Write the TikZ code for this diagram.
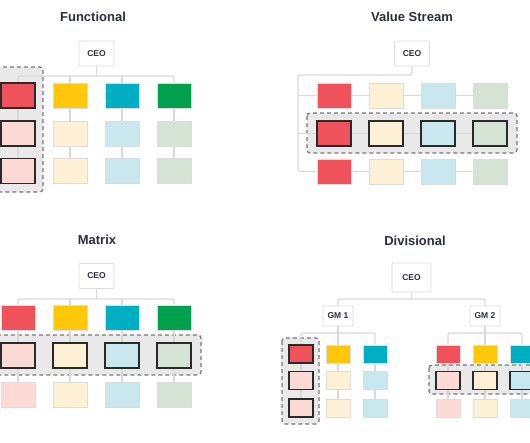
\documentclass[tikz,border=0pt]{standalone}
\usepackage{fontspec}
\setmainfont{Liberation Sans}
\usepackage{xcolor}
\usetikzlibrary{math, backgrounds}

\definecolor{cred}{HTML}{EF525B}
\definecolor{cyel}{HTML}{FFC709}
\definecolor{cteal}{HTML}{00AEC3}
\definecolor{cgrn}{HTML}{00A04D}
\definecolor{lred}{HTML}{FDDAD6}
\definecolor{lyel}{HTML}{FEF0D5}
\definecolor{lteal}{HTML}{C9E7EE}
\definecolor{lgrn}{HTML}{D4E3D3}
\definecolor{ink}{HTML}{2B2E3B}
\definecolor{cdark}{HTML}{2A2A2A}
\definecolor{cedge}{HTML}{DCDCDC}
\definecolor{wiregray}{HTML}{D9D9D9}
\definecolor{groupfill}{HTML}{E9E9E9}
\definecolor{groupline}{HTML}{777777}

\tikzset{
  heading/.style={font=\bfseries\fontsize{13}{15}\selectfont, text=ink},
  boss/.style={draw=cedge, line width=0.9pt, fill=white, rounded corners=1pt,
    font=\bfseries\fontsize{8.5}{10}\selectfont, text=ink,
    minimum width=35pt, minimum height=25pt, inner sep=0pt},
  unit/.style={draw=cedge, line width=0.8pt, minimum width=34pt, minimum height=25pt, inner sep=0pt},
  subunit/.style={unit, minimum width=24pt, minimum height=18pt},
  picked/.style={draw=cdark, line width=1.1pt},
  teambox/.style={draw=groupline, dash pattern=on 4pt off 3pt, line width=1.2pt,
    fill=groupfill, rounded corners=3pt},
  wire/.style={draw=wiregray, line width=1.3pt, rounded corners=2pt},
}

\begin{document}
\begin{tikzpicture}[x=1pt, y=-1pt]
\tikzmath{
\dx=52;
\sx=37;
}
\useasboundingbox (0,0) rectangle (530,442);

%for functional
\node[heading] (tfun) at (93,17) {Functional};
\node[boss] (fceo) at (96.5,53.5) {CEO};
\foreach \c/\hard/\soft/\ec/\lw in {1/cred/lred/cdark/1.1,2/cyel/lyel/cedge/0.8,3/cteal/lteal/cedge/0.8,4/cgrn/lgrn/cedge/0.8}{
  \node[unit, fill=\hard, draw=\ec, line width=\lw pt] (f\c1) at ({18+\dx*(\c-1)},95.5) {};
  \node[unit, fill=\soft, draw=\ec, line width=\lw pt] (f\c2) at ({18+\dx*(\c-1)},133.5) {};
  \node[unit, fill=\soft, draw=\ec, line width=\lw pt] (f\c3) at ({18+\dx*(\c-1)},171) {};
}
\coordinate (fbus) at (0,76);
\begin{pgfonlayer}{background}
\draw[teambox] (-7,67) rectangle (43,192);
\draw[wire] (fceo.south) -- (fceo.south |- fbus);
\draw[wire] (f11.north) |- (f41.north |- fbus) -- (f41.north);
\draw[wire] (f21.north) -- (f21.north |- fbus);
\draw[wire] (f31.north) -- (f31.north |- fbus);
\foreach \c in {1,...,4}
  \draw[wire] (f\c1) -- (f\c3);
\end{pgfonlayer}

%for value stream
\node[heading] (tval) at (412,17) {Value Stream};
\node[boss] (vceo) at (412,53.5) {CEO};
\foreach \c/\soft in {1/cred,2/lyel,3/lteal,4/lgrn}{
  \node[unit, fill=\soft] (v\c1) at ({334+\dx*(\c-1)},95.5) {};
  \node[unit, fill=\soft, picked] (v\c2) at ({334+\dx*(\c-1)},133.5) {};
  \node[unit, fill=\soft] (v\c3) at ({334+\dx*(\c-1)},171.5) {};
}
\coordinate (vtop) at (298,75);
\begin{pgfonlayer}{background}
\draw[teambox] (307,113) rectangle (517,153);
\draw[wire] (vceo.south) |- (vtop) |- (v43);
\draw[wire] (vtop |- v11) -- (v41);
\draw[wire] (vtop |- v12) -- (v42);
\end{pgfonlayer}

%for matrix
\node[heading] (tmat) at (97,240) {Matrix};
\node[boss] (mceo) at (96.5,276) {CEO};
\foreach \c/\hard/\soft in {1/cred/lred,2/cyel/lyel,3/cteal/lteal,4/cgrn/lgrn}{
  \node[unit, fill=\hard] (m\c1) at ({18+\dx*(\c-1)},317.5) {};
  \node[unit, fill=\soft, picked] (m\c2) at ({18+\dx*(\c-1)},355.5) {};
  \node[unit, fill=\soft] (m\c3) at ({18+\dx*(\c-1)},394.5) {};
}
\coordinate (mbus) at (0,299);
\begin{pgfonlayer}{background}
\draw[teambox] (-9,335) rectangle (201,375);
\draw[wire] (mceo.south) -- (mceo.south |- mbus);
\draw[wire] (m11.north) |- (m41.north |- mbus) -- (m41.north);
\draw[wire] (m21.north) -- (m21.north |- mbus);
\draw[wire] (m31.north) -- (m31.north |- mbus);
\foreach \c in {1,...,4}
  \draw[wire] (m\c1) -- (m\c3);
\end{pgfonlayer}

%for divisional
\node[heading] (tdiv) at (415,241) {Divisional};
\node[boss, minimum width=39pt, minimum height=29pt] (dceo) at (411.5,277.5) {CEO};
\node[boss, minimum width=30pt, minimum height=20pt] (gm1) at (338,316) {GM 1};
\node[boss, minimum width=30pt, minimum height=20pt] (gm2) at (485,316) {GM 2};
\foreach \c/\hard/\soft/\ec/\lw in {1/cred/lred/cdark/1.1,2/cyel/lyel/cedge/0.8,3/cteal/lteal/cedge/0.8}{
  \node[subunit, fill=\hard, draw=\ec, line width=\lw pt] (a\c1) at ({301+\sx*(\c-1)},354) {};
  \node[subunit, fill=\soft, draw=\ec, line width=\lw pt] (a\c2) at ({301+\sx*(\c-1)},380.5) {};
  \node[subunit, fill=\soft, draw=\ec, line width=\lw pt] (a\c3) at ({301+\sx*(\c-1)},408) {};
}
\foreach \c/\hard/\soft in {1/cred/lred,2/cyel/lyel,3/cteal/lteal}{
  \node[subunit, fill=\hard] (b\c1) at ({448+\sx*(\c-1)},354) {};
  \node[subunit, fill=\soft, picked] (b\c2) at ({448+\sx*(\c-1)},380.5) {};
  \node[subunit, fill=\soft] (b\c3) at ({448+\sx*(\c-1)},408) {};
}
\coordinate (dbus) at (0,299);
\coordinate (abus) at (0,333);
\begin{pgfonlayer}{background}
\draw[teambox] (282,338) rectangle (319,424);
\draw[teambox] (429,365) rectangle (545,394);
\draw[wire] (dceo.south) -- (dceo.south |- dbus);
\draw[wire] (gm1.north) |- (dceo.south |- dbus) -| (gm2.north);
\draw[wire] (a11.north) |- (gm1.south |- abus) -| (a31.north);
\draw[wire] (b11.north) |- (gm2.south |- abus) -| (b31.north);
\draw[wire] (gm1.south) -- (a21.north);
\draw[wire] (gm2.south) -- (b21.north);
\foreach \c in {1,2,3}{
  \draw[wire] (a\c1) -- (a\c3);
  \draw[wire] (b\c1) -- (b\c3);
}
\end{pgfonlayer}
\end{tikzpicture}
\end{document}
